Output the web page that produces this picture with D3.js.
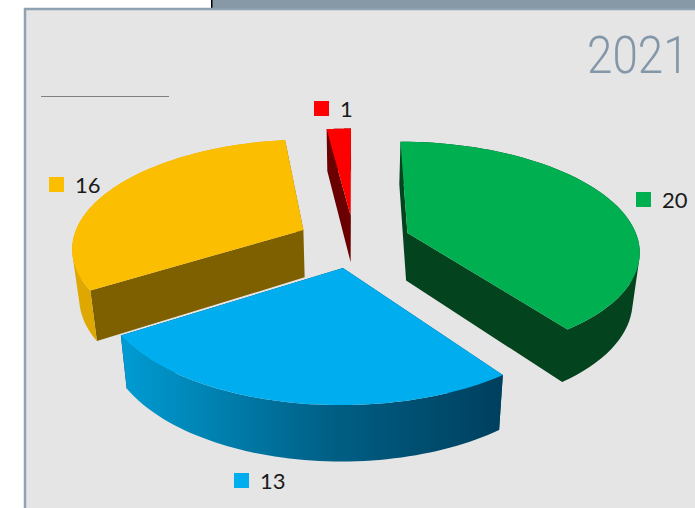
<!DOCTYPE html>
<html>
<head>
<meta charset="utf-8">
<style>
  html, body { margin: 0; padding: 0; background: #fff; overflow: hidden; }
  svg { display: block; }
</style>
<script src="https://cdn.jsdelivr.net/npm/d3@7"></script>
</head>
<body>
<div id="chart"></div>
<script>
// Slice values, in clockwise order from 12 o'clock
const sliceNames = ['green', 'blue', 'yellow', 'red'];
const sliceValues = [20, 13, 16, 1];
const chartTitle = '2021';

// Styles per slice
const topColors = ['#00AF50', '#00AEEF', '#FCBE00', '#FF0000'];
const wallColors = ['#03441E', '#00405F', '#7F6000', '#6A0000'];
const bandColors = ['#03441E', 'url(#blueBand)', '#DFA800', '#6A0000'];

// Legend square top-left corners
const legendSpots = [[636, 192], [234, 473], [49, 177], [314, 101]];

const width = 695;
const height = 508;

// Perspective model of the pie: disc radius is 1, u to the right, v toward the viewer
const cx = 354, cy = 241;
const scaleU = 231, scaleV = 107.3, tilt = 0.1515;
const explode = 0.246;
const thickness = 48, thicknessTilt = 0.12, bottomShrink = 0.975;

function project(u, v, bottom) {
  const w = 1 - tilt * v;
  const sx = cx + scaleU * u / w;
  const sy = cy + scaleV * v / w;
  if (!bottom) return [sx, sy];
  return [cx + (sx - cx) * bottomShrink, sy + thickness / (1 - thicknessTilt * v)];
}

const svg = d3.select('#chart')
  .append('svg')
  .attr('width', width)
  .attr('height', height);

const defs = svg.append('defs');
const blueBand = defs.append('linearGradient')
  .attr('id', 'blueBand')
  .attr('gradientUnits', 'userSpaceOnUse')
  .attr('x1', 121).attr('x2', 503)
  .attr('y1', 0).attr('y2', 0);
blueBand.append('stop').attr('offset', '0%').attr('stop-color', '#009CD3');
blueBand.append('stop').attr('offset', '55%').attr('stop-color', '#005F85');
blueBand.append('stop').attr('offset', '100%').attr('stop-color', '#003F5E');

// Panel behind the chart
svg.append('rect').attr('x', 212).attr('y', 0).attr('width', width - 212).attr('height', 9).attr('fill', '#8798A6');
svg.append('rect').attr('x', 211).attr('y', 0).attr('width', 1.5).attr('height', 8).attr('fill', '#000');
svg.append('rect')
  .attr('x', 25).attr('y', 9)
  .attr('width', width).attr('height', height)
  .attr('fill', '#E5E5E5')
  .attr('stroke', '#8FA2B2')
  .attr('stroke-width', 2.5);

// Thin rule where the chart title would be
svg.append('line')
  .attr('x1', 41).attr('x2', 169)
  .attr('y1', 96.5).attr('y2', 96.5)
  .attr('stroke', '#808080')
  .attr('stroke-width', 1);

svg.append('text')
  .attr('transform', 'translate(587,73) scale(0.88,1)')
  .style('font-family', 'Roboto, sans-serif')
  .style('font-weight', 300)
  .style('font-size', '52px')
  .style('fill', '#8497A8')
  .text(chartTitle);

const pie = d3.pie().sort(null).value(d => d.value);
const slices = pie(sliceValues.map((value, i) => ({ name: sliceNames[i], value, i })));

const toPath = d3.line();

// One side strip as a closed polygon, always wound the same way so that
// strips merged into a single path add up without seams
function strip(pts) {
  const poly = pts.map(p => project(p[0], p[1], false))
    .concat(pts.slice().reverse().map(p => project(p[0], p[1], true)));
  if (d3.polygonArea(poly) < 0) poly.reverse();
  return toPath(poly) + 'Z';
}

// Draw each slice, back slices first
const back2front = [3, 2, 0, 1];
back2front.forEach(index => {
  const slice = slices[index];
  const i = slice.data.i;
  const mid = (slice.startAngle + slice.endAngle) / 2;
  const u0 = Math.sin(mid) * explode;
  const v0 = -Math.cos(mid) * explode;

  const rim = d3.range(0, 61).map(k => {
    const a = slice.startAngle + (slice.endAngle - slice.startAngle) * k / 60;
    return [u0 + Math.sin(a), v0 - Math.cos(a)];
  });

  const sides = [
    { pts: [[u0, v0], rim[0]], fill: wallColors[i] },
    { pts: [[u0, v0], rim[rim.length - 1]], fill: wallColors[i] }
  ].concat(d3.pairs(rim).map(pts => ({ pts, fill: bandColors[i] })));

  // Same coloured side faces go in one path
  const faces = Array.from(d3.group(sides, d => d.fill), ([fill, list]) => ({
    fill,
    d: list.map(s => strip(s.pts)).join('')
  }));

  const g = svg.append('g').attr('class', 'slice ' + slice.data.name);

  g.selectAll('path.side')
    .data(faces)
    .enter()
    .append('path')
    .attr('class', 'side')
    .attr('d', d => d.d)
    .attr('fill', d => d.fill);

  g.append('path')
    .attr('class', 'top')
    .attr('d', toPath([[u0, v0]].concat(rim).map(p => project(p[0], p[1], false))) + 'Z')
    .attr('fill', topColors[i]);
});

// Legend style value labels
const labels = svg.selectAll('.label')
  .data(slices)
  .enter()
  .append('g')
  .attr('class', 'label')
  .attr('transform', d => `translate(${legendSpots[d.data.i]})`);

labels.append('rect')
  .attr('width', 15)
  .attr('height', 15)
  .attr('fill', d => topColors[d.data.i]);

labels.append('text')
  .attr('x', 26)
  .attr('y', 16)
  .style('font-family', 'Lato, sans-serif')
  .style('font-size', '22px')
  .style('fill', '#1a1a1a')
  .text(d => d.data.value);
</script>
</body>
</html>
